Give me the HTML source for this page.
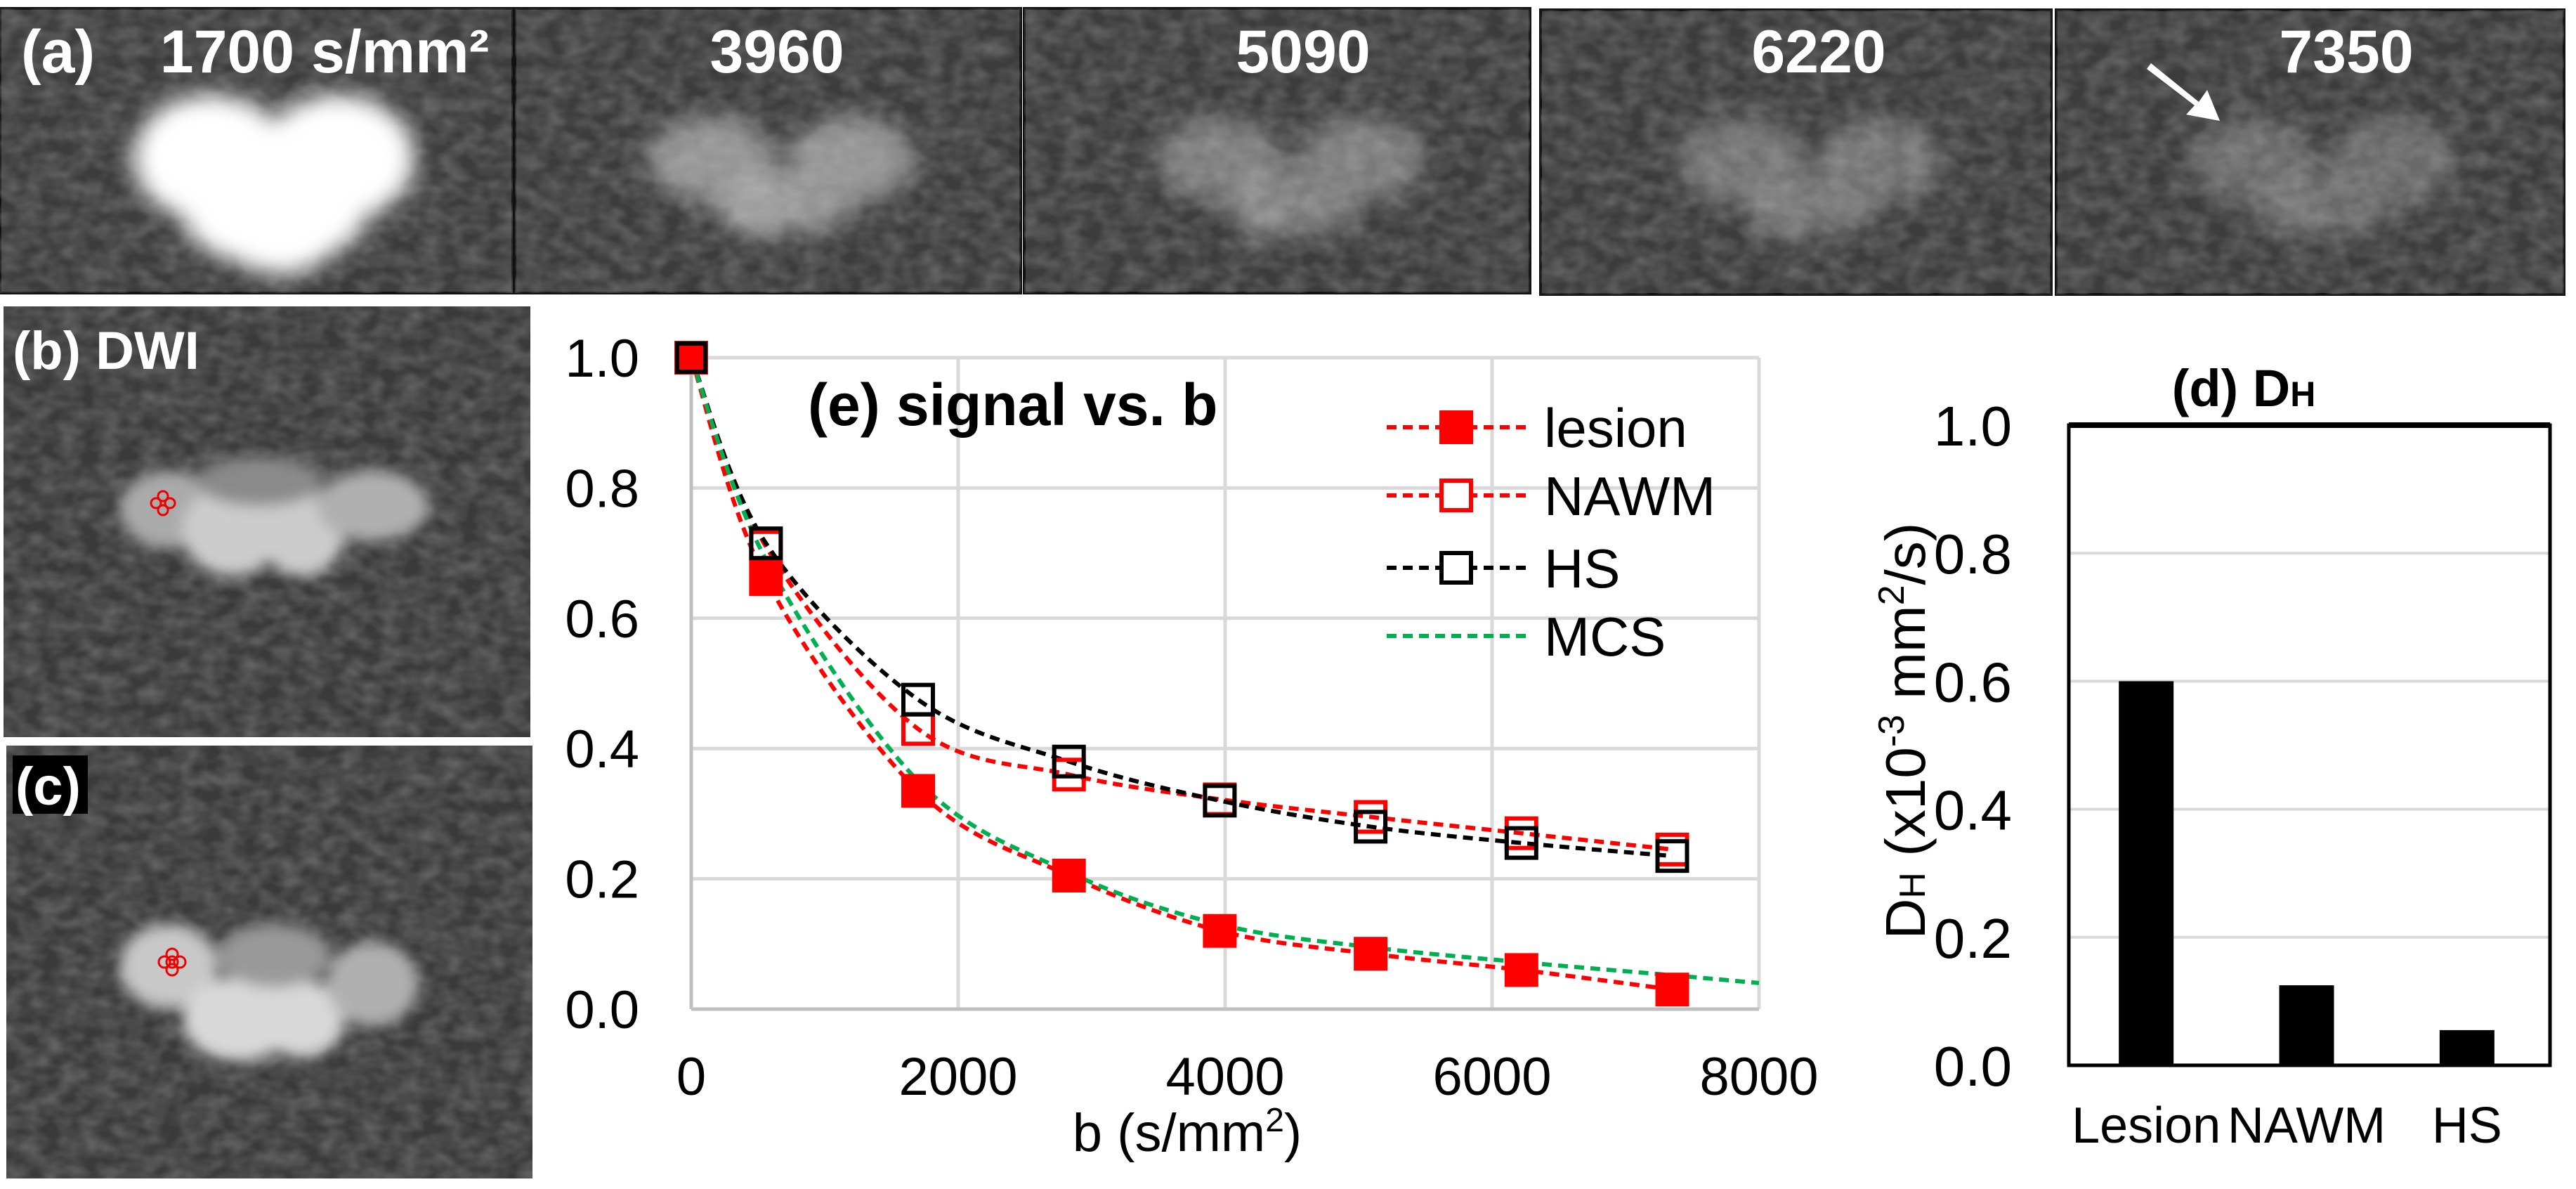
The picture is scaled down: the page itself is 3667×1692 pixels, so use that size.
<!DOCTYPE html>
<html><head><meta charset="utf-8"><style>
html,body{margin:0;padding:0;background:#fff;}
svg{display:block;font-family:"Liberation Sans",Arial,sans-serif;}
</style></head><body>
<svg id="fig" width="3667" height="1692" viewBox="0 0 3667 1692" xmlns="http://www.w3.org/2000/svg">
<defs>
  <filter id="noise" x="0" y="0" width="100%" height="100%">
    <feTurbulence type="fractalNoise" baseFrequency="0.035 0.05" numOctaves="2" seed="3" result="t"/>
    <feColorMatrix type="matrix" values="0 0 0 0 0.24  0 0 0 0 0.24  0 0 0 0 0.24  0.9 0 0 0 -0.25" in="t" result="n"/>
    <feComposite in="n" in2="SourceGraphic" operator="in"/>
  </filter>
  <filter id="blur" x="-50%" y="-50%" width="200%" height="200%"><feGaussianBlur stdDeviation="16"/></filter>
  <filter id="blur2" x="-50%" y="-50%" width="200%" height="200%"><feGaussianBlur stdDeviation="10"/></filter>
</defs>

<g id="rowA"></g>

<g>
  <rect x="5" y="436" width="750" height="613" fill="#3a3a3a"/>
  <rect x="5" y="436" width="750" height="613" fill="#555" filter="url(#noise)"/>
  <g filter="url(#blur2)">
    <ellipse cx="240" cy="725" rx="70" ry="55" fill="#aaa"/>
    <ellipse cx="330" cy="755" rx="70" ry="65" fill="#ccc"/>
    <ellipse cx="430" cy="760" rx="60" ry="60" fill="#ccc"/>
    <ellipse cx="530" cy="720" rx="80" ry="50" fill="#b0b0b0"/>
    <ellipse cx="370" cy="685" rx="90" ry="35" fill="#8a8a8a"/>
  </g>
  <g fill="none" stroke="#e00" stroke-width="3">
    <circle cx="232" cy="706" r="7"/><circle cx="222" cy="716" r="7"/><circle cx="242" cy="716" r="7"/><circle cx="232" cy="726" r="7"/>
  </g>
  <text x="18" y="525" font-size="76" font-weight="bold" fill="#fff">(b) DWI</text>
</g>

<g>
  <rect x="9" y="1061" width="749" height="616" fill="#3a3a3a"/>
  <rect x="9" y="1061" width="749" height="616" fill="#555" filter="url(#noise)"/>
  <g filter="url(#blur2)">
    <ellipse cx="240" cy="1375" rx="70" ry="60" fill="#c8c8c8"/>
    <ellipse cx="340" cy="1450" rx="80" ry="60" fill="#d8d8d8"/>
    <ellipse cx="430" cy="1450" rx="60" ry="55" fill="#d8d8d8"/>
    <ellipse cx="530" cy="1400" rx="65" ry="60" fill="#b0b0b0"/>
    <ellipse cx="390" cy="1360" rx="80" ry="45" fill="#999"/>
  </g>
  <g fill="none" stroke="#e00" stroke-width="3">
    <circle cx="245" cy="1358" r="8"/><circle cx="234" cy="1369" r="8"/><circle cx="256" cy="1369" r="8"/><circle cx="245" cy="1380" r="8"/><circle cx="245" cy="1369" r="8"/>
  </g>
  <rect x="18" y="1075" width="107" height="83" fill="#000"/>
  <text x="22" y="1145" font-size="76" font-weight="bold" fill="#fff">(c)</text>
</g>

<g id="chartE"></g>
<g id="chartD"></g>
</svg>

<script>
// ---- Chart (e) data ----
const bValues = [0, 560, 1700, 2830, 3960, 5090, 6220, 7350];
const lesionSignal = [1.0, 0.66, 0.335, 0.205, 0.12, 0.085, 0.06, 0.03];
const nawmSignal = [1.0, 0.71, 0.43, 0.36, 0.322, 0.295, 0.27, 0.245];
const hsSignal = [1.0, 0.715, 0.475, 0.38, 0.32, 0.28, 0.255, 0.235];
const mcsB = [0, 560, 1700, 2830, 3960, 5090, 6220, 7350, 8000];
const mcsSignal = [1.0, 0.69, 0.35, 0.21, 0.13, 0.095, 0.072, 0.052, 0.04];
const xTicksE = [0, 2000, 4000, 6000, 8000];
const yTicksE = [0.0, 0.2, 0.4, 0.6, 0.8, 1.0];
// ---- Chart (d) data ----
const dhCategories = ["Lesion", "NAWM", "HS"];
const dhValues = [0.6, 0.125, 0.055];
const yTicksD = [0.0, 0.2, 0.4, 0.6, 0.8, 1.0];
// ---- Panel (a) labels ----
const bImageLabels = ["1700  s/mm²", "3960", "5090", "6220", "7350"];

const NS = "http://www.w3.org/2000/svg";
function mk(parent, tag, attrs, text) {
  const e = document.createElementNS(NS, tag);
  for (const k in attrs) e.setAttribute(k, attrs[k]);
  if (text !== undefined) e.textContent = text;
  parent.appendChild(e);
  return e;
}

// ---- Panel (a) ----
const rowA = document.getElementById('rowA');
const panelsA = [[0,12,730,405],[733,12,720,405],[1458,12,720,405],[2193,14,727,405],[2927,14,723,405]];
const brightA = [1.0, 0.62, 0.45, 0.38, 0.32];
panelsA.forEach((p, i) => {
  const g = mk(rowA, 'g', {});
  
  
  mk(g, 'rect', {x:p[0], y:p[1], width:p[2], height:p[3], fill:'#3c3c3c', stroke:'#111', 'stroke-width':4});
  mk(g, 'rect', {x:p[0], y:p[1], width:p[2], height:p[3], fill:'#555', filter:'url(#noise)'});
  const cx = p[0] + p[2]*0.54, cy = p[1] + 230;
  const bg = mk(g, 'g', {filter:'url(#blur)', opacity: brightA[i]});
  if (i === 0) {
    mk(bg, 'ellipse', {cx:p[0]+300, cy:225, rx:110, ry:90, fill:'#fff'});
    mk(bg, 'ellipse', {cx:p[0]+480, cy:225, rx:110, ry:90, fill:'#fff'});
    mk(bg, 'ellipse', {cx:p[0]+390, cy:300, rx:130, ry:80, fill:'#fff'});
    mk(bg, 'ellipse', {cx:p[0]+400, cy:345, rx:70, ry:45, fill:'#fff'});
  } else {
    mk(bg, 'ellipse', {cx:cx-110, cy:cy-15, rx:90, ry:60, fill:'#c8c8c8'});
    mk(bg, 'ellipse', {cx:cx+90, cy:cy-15, rx:90, ry:60, fill:'#c8c8c8'});
    mk(bg, 'ellipse', {cx:cx-40, cy:cy+45, rx:60, ry:50, fill:'#ddd'});
    mk(bg, 'ellipse', {cx:cx+30, cy:cy+45, rx:55, ry:45, fill:'#ccc'});
  }
  const lx = [462, 1106, 1855, 2589, 3340][i];
  const t = mk(g, 'text', {x:lx, y:103, 'text-anchor':'middle', 'font-size':86, 'font-weight':'bold', fill:'#fff'}, bImageLabels[i]);
  
  
});
const aLab = mk(rowA, 'text', {x:30, y:103, 'font-size':86, 'font-weight':'bold', fill:'#fff'}, '(a)');


const arrow = mk(rowA, 'path', {d:'M3062 90 L3130 145 L3142 128 L3160 172 L3112 163 L3124 150 L3056 98 Z', fill:'#fff'});



// ---- Chart (e) ----
const E = document.getElementById('chartE');
const ex0 = 984, ex1 = 2504, ey0 = 1436, ey1 = 509;
const xE = v => ex0 + (v / 8000) * (ex1 - ex0);
const yE = v => ey0 - v * (ey0 - ey1);
yTicksE.forEach(v => {
  if (v > 0) mk(E, 'line', {x1:ex0, x2:ex1, y1:yE(v), y2:yE(v), stroke:'#d9d9d9', 'stroke-width':5});
  const t = mk(E, 'text', {x:910, y:yE(v)+27, 'text-anchor':'end', 'font-size':76, fill:'#000'}, v.toFixed(1));
  
  
});
xTicksE.forEach(v => {
  if (v > 0) mk(E, 'line', {x1:xE(v), x2:xE(v), y1:ey1, y2:ey0, stroke:'#d9d9d9', 'stroke-width':5});
  const t = mk(E, 'text', {x:xE(v), y:1558, 'text-anchor':'middle', 'font-size':76, fill:'#000'}, String(v));
  
  
});
mk(E, 'line', {x1:ex0, x2:ex1, y1:ey0, y2:ey0, stroke:'#bfbfbf', 'stroke-width':5});
mk(E, 'line', {x1:ex0, x2:ex0, y1:ey1, y2:ey0, stroke:'#bfbfbf', 'stroke-width':5});
const xt = mk(E, 'text', {x:1690, y:1638, 'text-anchor':'middle', 'font-size':76, fill:'#000'});


xt.innerHTML = 'b (s/mm<tspan dy="-28" font-size="48">2</tspan><tspan dy="28">)</tspan>';
const et = mk(E, 'text', {x:1150, y:605, 'font-size':84, 'font-weight':'bold', fill:'#000'}, '(e) signal vs. b');



function smoothPath(xs, ys) {
  const pts = xs.map((b, i) => [xE(b), yE(ys[i])]);
  let d = 'M' + pts[0][0] + ' ' + pts[0][1];
  for (let i = 0; i < pts.length - 1; i++) {
    const p0 = pts[Math.max(0, i-1)], p1 = pts[i], p2 = pts[i+1], p3 = pts[Math.min(pts.length-1, i+2)];
    const c1 = [p1[0] + (p2[0]-p0[0])/6, p1[1] + (p2[1]-p0[1])/6];
    const c2 = [p2[0] - (p3[0]-p1[0])/6, p2[1] - (p3[1]-p1[1])/6];
    d += ' C' + c1.join(' ') + ' ' + c2.join(' ') + ' ' + p2.join(' ');
  }
  return d;
}
const seriesE = [
  {name:'nawm', vals:nawmSignal, color:'#f00', fill:'#fff'},
  {name:'hs', vals:hsSignal, color:'#000', fill:'none'},
  {name:'lesion', vals:lesionSignal, color:'#f00', fill:'#f00'}
];
seriesE.forEach(s => {
  const p = mk(E, 'path', {d:smoothPath(bValues, s.vals), fill:'none', stroke:s.color, 'stroke-width':6, 'stroke-dasharray':'14 9'});
  
  
});
const mcs = mk(E, 'path', {d:smoothPath(mcsB, mcsSignal), fill:'none', stroke:'#00b050', 'stroke-width':6, 'stroke-dasharray':'14 9'});


seriesE.forEach(s => {
  s.vals.forEach((v, i) => {
    let r;
    if (s.fill === '#f00') r = mk(E, 'rect', {x:xE(bValues[i])-24, y:yE(v)-24, width:48, height:48, fill:'#f00'});
    else r = mk(E, 'rect', {x:xE(bValues[i])-21, y:yE(v)-21, width:42, height:42, fill:'none', stroke:s.color, 'stroke-width':6});
    
    
  });
});
const fp = mk(E, 'rect', {x:xE(0)-20, y:yE(1)-20, width:40, height:40, fill:'#f00', stroke:'#000', 'stroke-width':6});



const legend = [
  {label:'lesion', color:'#f00', fill:'#f00', y:608},
  {label:'NAWM', color:'#f00', fill:'#fff', y:705},
  {label:'HS', color:'#000', fill:'#fff', y:808},
  {label:'MCS', color:'#00b050', fill:null, y:905}
];
legend.forEach(l => {
  const g = mk(E, 'g', {});
  
  
  mk(g, 'line', {x1:1974, x2:2174, y1:l.y, y2:l.y, stroke:l.color, 'stroke-width':6, 'stroke-dasharray':'14 9'});
  if (l.fill) {
    if (l.fill === '#f00') mk(g, 'rect', {x:2049, y:l.y-24, width:48, height:48, fill:'#f00'});
    else mk(g, 'rect', {x:2052, y:l.y-21, width:42, height:42, fill:'#fff', stroke:l.color, 'stroke-width':6});
  }
  mk(g, 'text', {x:2198, y:l.y+28, 'font-size':78, fill:'#000'}, l.label);
});

// ---- Chart (d) ----
const D = document.getElementById('chartD');
const dx0 = 2945, dx1 = 3630, dy0 = 1516, dy1 = 605;
const yD = v => dy0 - v * (dy0 - dy1);
const bandD = (dx1 - dx0) / dhCategories.length;
const xD = i => dx0 + bandD * (i + 0.5) - 4;
mk(D, 'rect', {x:dx0, y:dy1, width:dx1-dx0, height:dy0-dy1, fill:'#fff'});
yTicksD.forEach(v => {
  if (v > 0 && v < 1) mk(D, 'line', {x1:dx0, x2:dx1, y1:yD(v), y2:yD(v), stroke:'#d9d9d9', 'stroke-width':4});
  const t = mk(D, 'text', {x:2864, y:yD(v)+29, 'text-anchor':'end', 'font-size':80, fill:'#000'}, v.toFixed(1));
  
  
});
dhValues.forEach((v, i) => {
  const r = mk(D, 'rect', {x:xD(i)-39, y:yD(v), width:78, height:yD(0)-yD(v), fill:'#000'});
  
  
  const t = mk(D, 'text', {x:xD(i), y:1626, 'text-anchor':'middle', 'font-size':72, fill:'#000'}, dhCategories[i]);
  
  
});
mk(D, 'rect', {x:dx0, y:dy1, width:dx1-dx0, height:dy0-dy1, fill:'none', stroke:'#000', 'stroke-width':5});
mk(D, 'line', {x1:dx0, x2:dx1, y1:dy1, y2:dy1, stroke:'#000', 'stroke-width':8});
const dt = mk(D, 'text', {x:3194, y:578, 'text-anchor':'middle', 'font-size':74, 'font-weight':'bold', fill:'#000'});


dt.innerHTML = '(d) D<tspan font-size="50">H</tspan>';
const yt = mk(D, 'text', {x:0, y:0, 'text-anchor':'middle', 'font-size':80, fill:'#000', transform:'translate(2740,1040) rotate(-90)'});


yt.innerHTML = 'D<tspan font-size="52">H</tspan> (x10<tspan dy="-30" font-size="52">-3</tspan><tspan dy="30"> mm</tspan><tspan dy="-30" font-size="52">2</tspan><tspan dy="30">/s)</tspan>';
</script>
</body></html>
